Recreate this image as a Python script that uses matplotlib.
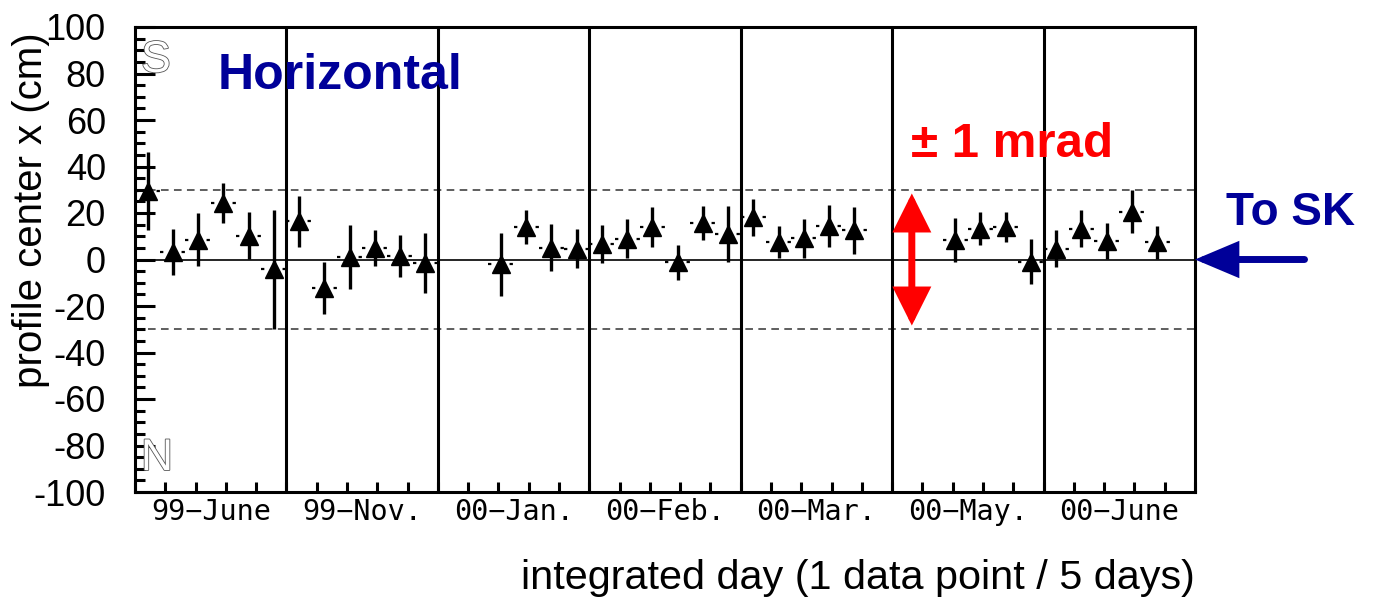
import numpy as np
import matplotlib.pyplot as plt
import matplotlib.patheffects as pe

plt.rcParams['font.family'] = ['Liberation Sans', 'DejaVu Sans']
plt.rcParams['axes.unicode_minus'] = False

# one point per 5-day bin, plotted at the bin centre
day = [2.5, 7.5, 12.5, 17.5, 22.5, 27.5,
       32.5, 37.5, 42.5, 47.5, 52.5, 57.5,
       72.5, 77.5, 82.5, 87.5,
       92.5, 97.5, 102.5, 107.5, 112.5, 117.5,
       122.5, 127.5, 132.5, 137.5, 142.5,
       162.5, 167.5, 172.5, 177.5,
       182.5, 187.5, 192.5, 197.5, 202.5]
center_x = [29.5, 3.3, 8.6, 24.2, 10.3, -4.2,
            16.5, -12.3, 0.9, 5.0, 1.4, -1.6,
            -2.1, 14.0, 5.1, 4.7,
            6.5, 9.0, 14.0, -1.2, 15.7, 11.0,
            18.1, 7.6, 9.1, 14.5, 12.5,
            8.4, 13.2, 13.9, -1.0,
            4.7, 13.2, 7.9, 20.6, 7.4]
center_err = [16.7, 10.0, 11.5, 8.5, 10.0, 25.5,
              11.0, 11.3, 13.8, 7.9, 9.0, 13.0,
              13.6, 7.2, 10.2, 8.5,
              8.2, 8.3, 8.5, 7.6, 7.2, 12.2,
              8.1, 7.0, 8.4, 9.1, 10.0,
              9.4, 7.1, 6.5, 9.7,
              7.9, 8.0, 7.6, 9.4, 7.1]
bin_half = 2.5

months = ['99−June', '99−Nov.', '00−Jan.', '00−Feb.',
          '00−Mar.', '00−May.', '00−June']
panel_days = 30
tolerance = 30   # +-1 mrad at SK, in cm

fig = plt.figure(figsize=(13.77, 6.0), dpi=100)
ax = fig.add_axes([135 / 1377, 108 / 600, 1060 / 1377, 465 / 600])

n_panels = len(months)
ax.set_xlim(0, n_panels * panel_days)
ax.set_ylim(-100, 100)

ax.axhline(0, color='black', lw=1.2, zorder=1)
for lim in (tolerance, -tolerance):
    ax.axhline(lim, color='#333333', lw=1.1, ls=(0, (5, 3.5)), zorder=1)
for k in range(1, n_panels):
    ax.axvline(k * panel_days, color='black', lw=2.2, zorder=1)

eb = ax.errorbar(day, center_x, yerr=center_err, xerr=bin_half, fmt='^',
                 color='black', ms=13, elinewidth=2.4, capsize=0, zorder=3)
# horizontal bars only peek out at the ends of the marker
eb[2][0].set_linewidth(1.6)
eb[2][0].set_linestyle((0, (1.5, 8.2)))

# axis ticks, ROOT style (inward)
ax.set_xticks(np.arange(panel_days / 2, n_panels * panel_days, panel_days), months)
ax.set_xticks(np.arange(0, n_panels * panel_days + 1, 6), minor=True)
ax.tick_params(axis='x', which='major', length=0, pad=4, labelsize=20.5,
               labelfontfamily='DejaVu Sans Mono')
ax.tick_params(axis='x', which='minor', direction='in', length=7.2, width=2.2)
ax.set_yticks(np.arange(-100, 101, 20))
ax.set_yticks(np.arange(-100, 101, 5), minor=True)
ax.tick_params(axis='y', which='major', direction='in', length=14.4, width=2.2,
               pad=21, labelsize=26)
ax.tick_params(axis='y', which='minor', direction='in', length=7.2, width=2.2)
for sp in ax.spines.values():
    sp.set_linewidth(2.2)

ax.set_ylabel('profile center x (cm)', fontsize=29)
ax.yaxis.set_label_coords(-0.080, 0.606)
ax.set_xlabel('integrated day (1 data point / 5 days)', fontsize=29.8, loc='right')
ax.xaxis.set_label_coords(1.0, -0.145)

# direction markers
outline = [pe.withStroke(linewidth=1.2, foreground='#555555')]
fig.text(156 / 1377, 1 - 72 / 600, 'S', fontsize=32, color='white',
         ha='center', va='baseline', path_effects=outline)
fig.text(157 / 1377, 1 - 470 / 600, 'N', fontsize=32, color='white',
         ha='center', va='baseline', path_effects=outline)

fig.text(340 / 1377, 1 - 89 / 600, 'Horizontal', color='#000099', fontsize=36,
         fontweight='bold', ha='center', va='baseline')
fig.text(1012 / 1377, 1 - 157 / 600, '± 1 mrad', color='red', fontsize=35.5,
         fontweight='bold', ha='center', va='baseline')
fig.text(1291 / 1377, 1 - 225 / 600, 'To SK', color='#000099', fontsize=33,
         fontweight='bold', ha='center', va='baseline')

# +-1 mrad span and beam direction arrows
ax.annotate('', xy=(153.9, 29), xytext=(153.9, -29),
            arrowprops=dict(arrowstyle='<|-|>,head_length=2.0,head_width=1.0',
                            mutation_scale=10, lw=5, color='red',
                            shrinkA=1, shrinkB=1, joinstyle='miter'))
ax.annotate('', xy=(210, 0), xytext=(231.7, 0), annotation_clip=False,
            arrowprops=dict(arrowstyle='-|>,head_length=2.3,head_width=0.97',
                            mutation_scale=10, lw=5, color='#000099',
                            shrinkA=0, shrinkB=0, capstyle='round',
                            joinstyle='miter'))

fig.savefig('out.png', dpi=100)
